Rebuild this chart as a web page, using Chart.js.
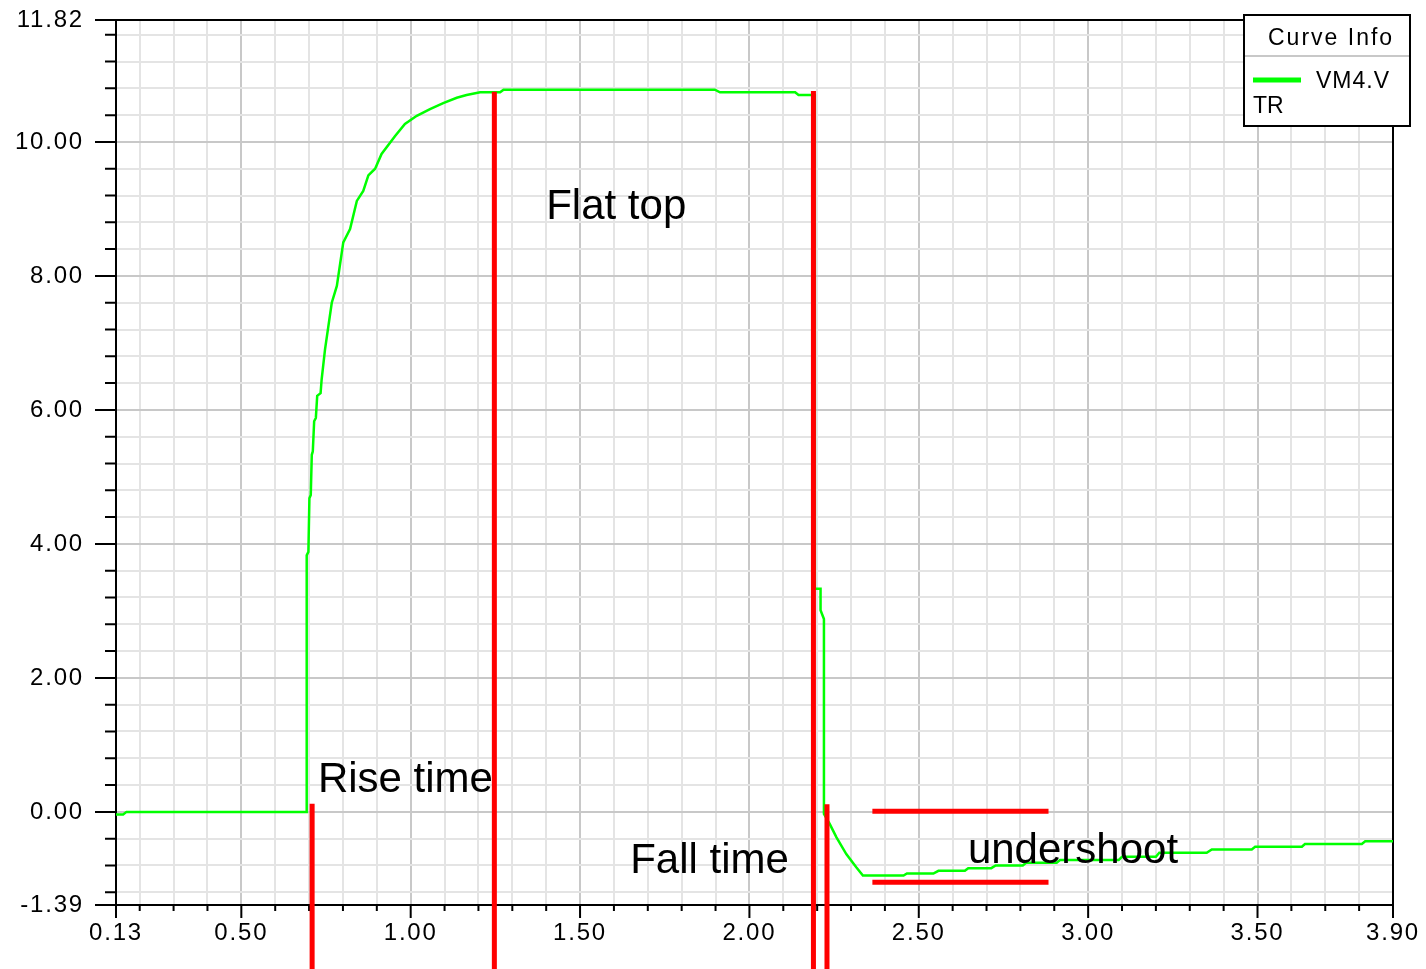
<!DOCTYPE html>
<html>
<head>
<meta charset="utf-8">
<title>VM4.V - TR</title>
<script src="https://cdn.jsdelivr.net/npm/chart.js@4/dist/chart.umd.min.js"></script>
<style>
  html, body { margin: 0; padding: 0; background: #fff; }
  #wrap { width: 1426px; height: 969px; }
</style>
</head>
<body>
<div id="wrap"><canvas id="trChart" width="1426" height="969"></canvas></div>
<script>
/* Curve data */
const timeVals = [
  0.130, 0.151, 0.161, 0.693, 0.693, 0.698, 0.701, 0.705, 0.708, 0.711,
  0.715, 0.720, 0.724, 0.734, 0.737, 0.747, 0.767, 0.782, 0.801, 0.821,
  0.841, 0.860, 0.875, 0.895, 0.914, 0.954, 0.983, 1.018, 1.057, 1.096,
  1.136, 1.165, 1.205, 1.264, 1.274, 1.898, 1.913, 2.135, 2.145, 2.193,
  2.193, 2.210, 2.210, 2.220, 2.220, 2.237, 2.257, 2.286, 2.316, 2.335,
  2.455, 2.465, 2.543, 2.558, 2.636, 2.646, 2.714, 2.727, 2.807, 2.817,
  2.907, 2.917, 3.090, 3.100, 3.200, 3.210, 3.350, 3.365, 3.483, 3.493,
  3.631, 3.640, 3.808, 3.818, 3.900
];
const vm4Vals = [
  -0.04, -0.04, 0.00, 0.00, 3.83, 3.88, 4.68, 4.73, 5.33, 5.38,
  5.83, 5.88, 6.21, 6.25, 6.45, 6.90, 7.60, 7.85, 8.50, 8.70,
  9.12, 9.27, 9.50, 9.60, 9.82, 10.09, 10.27, 10.39, 10.49, 10.58,
  10.66, 10.70, 10.74, 10.74, 10.78, 10.78, 10.74, 10.74, 10.70, 10.70,
  3.33, 3.33, 3.01, 2.88, -0.03, -0.18, -0.38, -0.63, -0.83, -0.95,
  -0.95, -0.92, -0.92, -0.88, -0.88, -0.84, -0.84, -0.80, -0.80, -0.76,
  -0.76, -0.72, -0.72, -0.67, -0.67, -0.61, -0.61, -0.56, -0.56, -0.52,
  -0.52, -0.48, -0.48, -0.44, -0.44
];

/* Axis ticks */
const xMajorTicks = [0.13, 0.5, 1.0, 1.5, 2.0, 2.5, 3.0, 3.5, 3.9];
const yMajorTicks = [-1.39, 0, 2, 4, 6, 8, 10, 11.82];
const xMinorStep = 0.1;
const yMinorStep = 0.4;

/* Red marker segments: [start, end] */
const markerX = [[0.709, 0.709], [1.247, 1.247], [2.189, 2.189], [2.229, 2.229], [2.363, 2.883], [2.363, 2.883]];
const markerY = [[0.12, -2.5], [10.75, -2.5], [10.76, -2.5], [0.115, -2.5], [0.01, 0.01], [-1.05, -1.05]];

/* Text notes on the plot */
const noteText = ['Rise time', 'Flat top', 'Fall time', 'undershoot'];
const noteX = [0.726, 1.400, 1.648, 2.645];
const noteY = [0.29, 8.85, -0.91, -0.76];

const curveLabel = 'VM4.V';
const analysisName = 'TR';
const FONT = '"Liberation Sans", Arial, sans-serif';

function withMinor(major, step, min, max) {
  const out = major.map(v => ({ value: v, major: true }));
  for (let k = Math.ceil(min / step); k * step <= max; k++) {
    const v = Math.round(k * step * 100) / 100;
    if (v <= min || v >= max) continue;
    if (major.some(m => Math.abs(m - v) < 1e-6)) continue;
    out.push({ value: v, major: false });
  }
  return out.sort((a, b) => a.value - b.value);
}

const xTicks = withMinor(xMajorTicks, xMinorStep, 0.13, 3.9);
const yTicks = withMinor(yMajorTicks, yMinorStep, -1.39, 11.82);

const markerSets = markerX.map((xs, i) => ({
  label: 'marker' + i,
  data: xs.map((x, j) => ({ x: x, y: markerY[i][j] })),
  borderColor: '#ff0000',
  borderWidth: 5,
  pointRadius: 0,
  clip: false,
  order: 0
}));

/* tick marks + top/right frame */
const frameTicks = {
  id: 'frameTicks',
  beforeDraw(chart) {
    chart.ctx.letterSpacing = '1.8px';
  },
  beforeDatasetsDraw(chart) {
    const { ctx, chartArea: a, scales } = chart;
    ctx.save();
    ctx.strokeStyle = '#000';
    ctx.lineWidth = 2;
    ctx.beginPath();
    yTicks.forEach(t => {
      const py = scales.y.getPixelForValue(t.value);
      ctx.moveTo(a.left - (t.major ? 21 : 11), py);
      ctx.lineTo(a.left, py);
    });
    xTicks.forEach(t => {
      const px = scales.x.getPixelForValue(t.value);
      ctx.moveTo(px, a.bottom);
      ctx.lineTo(px, a.bottom + (t.major ? 13 : 6));
    });
    ctx.moveTo(a.left - 21, a.top);
    ctx.lineTo(a.right + 1, a.top);
    ctx.moveTo(a.right, a.top);
    ctx.lineTo(a.right, a.bottom);
    ctx.stroke();
    ctx.restore();
  },
  afterDatasetsDraw(chart) {
    const { ctx, scales } = chart;
    ctx.save();
    ctx.letterSpacing = '0px';
    ctx.fillStyle = '#000';
    ctx.font = '42px ' + FONT;
    ctx.textBaseline = 'alphabetic';
    ctx.textAlign = 'left';
    noteText.forEach((t, i) => {
      ctx.fillText(t, scales.x.getPixelForValue(noteX[i]), scales.y.getPixelForValue(noteY[i]));
    });
    ctx.restore();
  }
};

/* Curve Info box */
const curveInfo = {
  id: 'curveInfo',
  afterDraw(chart) {
    const { ctx, chartArea: a } = chart;
    const ds = chart.data.datasets.find(d => d.label === curveLabel);
    const x0 = a.right - 149, y0 = a.top - 5, w = 166, h = 111;
    ctx.save();
    ctx.fillStyle = '#fff';
    ctx.fillRect(x0, y0, w, h);
    ctx.strokeStyle = '#c8c8c8';
    ctx.lineWidth = 2;
    ctx.beginPath();
    ctx.moveTo(x0 + 1, y0 + 41);
    ctx.lineTo(x0 + w - 1, y0 + 41);
    ctx.stroke();
    ctx.strokeStyle = '#000';
    ctx.strokeRect(x0, y0, w, h);

    ctx.fillStyle = '#000';
    ctx.font = '23px ' + FONT;
    ctx.textAlign = 'left';
    ctx.textBaseline = 'alphabetic';
    ctx.letterSpacing = '2px';
    ctx.fillText('Curve Info', x0 + 24, y0 + 30);

    ctx.strokeStyle = ds.borderColor;
    ctx.lineWidth = 5;
    ctx.beginPath();
    ctx.moveTo(x0 + 9, y0 + 65);
    ctx.lineTo(x0 + 57, y0 + 65);
    ctx.stroke();

    ctx.letterSpacing = '1px';
    ctx.fillText(ds.label, x0 + 72, y0 + 73);
    ctx.letterSpacing = '0px';
    ctx.fillText(analysisName, x0 + 9, y0 + 98);
    ctx.restore();
  }
};

const ctx = document.getElementById('trChart').getContext('2d');

new Chart(ctx, {
  type: 'line',
  data: {
    datasets: markerSets.concat([{
      label: curveLabel,
      data: timeVals.map((t, i) => ({ x: t, y: vm4Vals[i] })),
      borderColor: '#00ff00',
      borderWidth: 2.5,
      pointRadius: 0,
      tension: 0,
      order: 1
    }])
  },
  options: {
    responsive: false,
    animation: false,
    layout: { padding: { top: 20, right: 33, left: 0, bottom: 0 } },
    plugins: {
      legend: { display: false },
      tooltip: { enabled: false }
    },
    scales: {
      x: {
        type: 'linear',
        min: 0.13,
        max: 3.9,
        afterBuildTicks: s => { s.ticks = xTicks.map(t => ({ value: t.value, major: t.major })); },
        afterFit: s => {
          s.height = 64;
          s.paddingLeft = 0;
          s.paddingRight = 0;
        },
        grid: {
          color: c => (c.tick && c.tick.major ? '#c8c8c8' : '#e4e4e4'),
          lineWidth: 2,
          drawTicks: false
        },
        border: { color: '#000', width: 2 },
        ticks: {
          autoSkip: false,
          maxRotation: 0,
          padding: 14,
          color: '#000',
          font: { family: FONT, size: 24 },
          callback: (v, i, t) => (t[i].major ? v.toFixed(2) : '')
        }
      },
      y: {
        type: 'linear',
        min: -1.39,
        max: 11.82,
        afterBuildTicks: s => { s.ticks = yTicks.map(t => ({ value: t.value, major: t.major })); },
        afterFit: s => {
          s.width = 116;
          s.paddingTop = 0;
          s.paddingBottom = 0;
        },
        grid: {
          color: c => (c.tick && c.tick.major ? '#c8c8c8' : '#e4e4e4'),
          lineWidth: 2,
          drawTicks: false
        },
        border: { color: '#000', width: 2 },
        ticks: {
          autoSkip: false,
          padding: 32,
          color: '#000',
          font: { family: FONT, size: 24 },
          callback: (v, i, t) => (t[i].major ? v.toFixed(2) : '')
        }
      }
    }
  },
  plugins: [frameTicks, curveInfo]
});
</script>
</body>
</html>
